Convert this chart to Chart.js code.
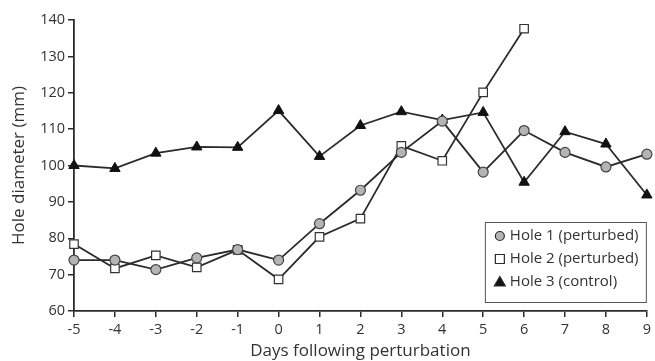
<!DOCTYPE html>
<html>
<head>
<meta charset="utf-8">
<script src="https://cdn.jsdelivr.net/npm/chart.js@4/dist/chart.umd.min.js"></script>
<style>
  html, body { margin: 0; padding: 0; background: #fff; }
  #wrap { width: 655px; height: 361px; position: relative; }
</style>
</head>
<body>
<div id="wrap"><canvas id="holeChart"></canvas></div>
<script>
const days = ['-5', '-4', '-3', '-2', '-1', '0', '1', '2', '3', '4', '5', '6', '7', '8', '9'];
const hole1 = [74, 74, 71.4, 74.6, 76.9, 74, 84, 93.2, 103.6, 112.2, 98.2, 109.6, 103.6, 99.6, 103.1];
const hole2 = [78.4, 71.7, 75.3, 72, 76.8, 68.7, 80.4, 85.4, 105.4, 101.3, 120.1, 137.6];
const hole3 = [100, 99.2, 103.4, 105.1, 105, 115.1, 102.5, 111, 114.8, 112.5, 114.6, 95.4, 109.3, 105.9, 91.9];
const yTicks = [60, 70, 80, 90, 100, 110, 120, 130, 140];

const seriesNames = ['Hole 1 (perturbed)', 'Hole 2 (perturbed)', 'Hole 3 (control)'];
const textColor = '#333333';
const lineColor = '#2b2b2b';
const fontFamily = '"Open Sans", "Noto Sans", sans-serif';

// boxed legend in the lower right corner of the plot
const boxLegend = {
  id: 'boxLegend',
  afterDraw(chart) {
    const ctx = chart.ctx;
    const area = chart.chartArea;
    const w = 162, h = 81;
    const x0 = area.right - w;
    const y0 = area.bottom - 8 - h;
    ctx.save();
    ctx.strokeStyle = '#555';
    ctx.lineWidth = 1;
    ctx.fillStyle = '#fff';
    ctx.fillRect(x0, y0, w, h);
    ctx.strokeRect(x0 + 0.5, y0 + 0.5, w - 1, h - 1);
    ctx.font = '15px ' + fontFamily;
    ctx.textBaseline = 'middle';
    chart.data.datasets.forEach((ds, i) => {
      const cy = y0 + 14 + i * 23;
      const cx = x0 + 15;
      ctx.lineWidth = 1.2;
      ctx.strokeStyle = lineColor;
      ctx.fillStyle = ds.pointBackgroundColor;
      ctx.beginPath();
      if (ds.pointStyle === 'circle') {
        ctx.arc(cx, cy, 4.5, 0, Math.PI * 2);
      } else if (ds.pointStyle === 'rect') {
        ctx.rect(cx - 4.5, cy - 4.5, 9, 9);
      } else {
        ctx.moveTo(cx, cy - 5.5);
        ctx.lineTo(cx + 5.5, cy + 4);
        ctx.lineTo(cx - 5.5, cy + 4);
        ctx.closePath();
      }
      ctx.fill();
      ctx.stroke();
      ctx.fillStyle = textColor;
      ctx.fillText(seriesNames[i], x0 + 25, cy);
    });
    ctx.restore();
  }
};

const ctx = document.getElementById('holeChart');

new Chart(ctx, {
  type: 'line',
  data: {
    labels: days,
    datasets: [
      {
        label: seriesNames[0],
        data: hole1,
        borderColor: lineColor,
        borderWidth: 1.8,
        pointStyle: 'circle',
        pointRadius: 5,
        pointBackgroundColor: '#b4b4b4',
        pointBorderColor: '#444',
        pointBorderWidth: 1.2,
        tension: 0
      },
      {
        label: seriesNames[1],
        data: hole2,
        borderColor: lineColor,
        borderWidth: 1.8,
        pointStyle: 'rect',
        pointRadius: 6,
        pointBackgroundColor: '#ffffff',
        pointBorderColor: '#333',
        pointBorderWidth: 1.2,
        tension: 0
      },
      {
        label: seriesNames[2],
        data: hole3,
        borderColor: lineColor,
        borderWidth: 1.8,
        pointStyle: 'triangle',
        pointRadius: 6,
        pointBackgroundColor: '#111111',
        pointBorderColor: '#111',
        pointBorderWidth: 1,
        tension: 0
      }
    ]
  },
  options: {
    responsive: true,
    maintainAspectRatio: false,
    animation: false,
    layout: {
      padding: { top: 20, right: 5, left: 0, bottom: 0 }
    },
    scales: {
      x: {
        offset: false,
        grid: {
          display: true,
          drawOnChartArea: false,
          drawTicks: true,
          tickLength: 6,
          color: lineColor,
          lineWidth: 1.5,
          offset: false
        },
        border: { display: true, color: lineColor, width: 1.8 },
        ticks: {
          color: textColor,
          font: { family: fontFamily, size: 14.5 },
          padding: 4,
          maxRotation: 0,
          autoSkip: false
        },
        title: {
          display: true,
          text: 'Days following perturbation',
          color: textColor,
          font: { family: fontFamily, size: 17 },
          padding: { top: 0, bottom: 0 }
        },
        afterFit: function (scale) {
          scale.height = 50;
        }
      },
      y: {
        min: 60,
        max: 140,
        afterBuildTicks: function (scale) {
          scale.ticks = yTicks.map(v => ({ value: v }));
        },
        grid: {
          display: true,
          drawOnChartArea: false,
          drawTicks: true,
          tickLength: 6,
          color: lineColor,
          lineWidth: 1.5
        },
        border: { display: true, color: lineColor, width: 1.8 },
        ticks: {
          color: textColor,
          font: { family: fontFamily, size: 14.5 },
          padding: 3
        },
        title: {
          display: true,
          text: 'Hole diameter (mm)',
          color: textColor,
          font: { family: fontFamily, size: 17 },
          padding: { top: 9, bottom: 4 }
        },
        afterFit: function (scale) {
          scale.width = 74;
        }
      }
    },
    plugins: {
      legend: { display: false },
      tooltip: { enabled: false }
    }
  },
  plugins: [boxLegend]
});
</script>
</body>
</html>
